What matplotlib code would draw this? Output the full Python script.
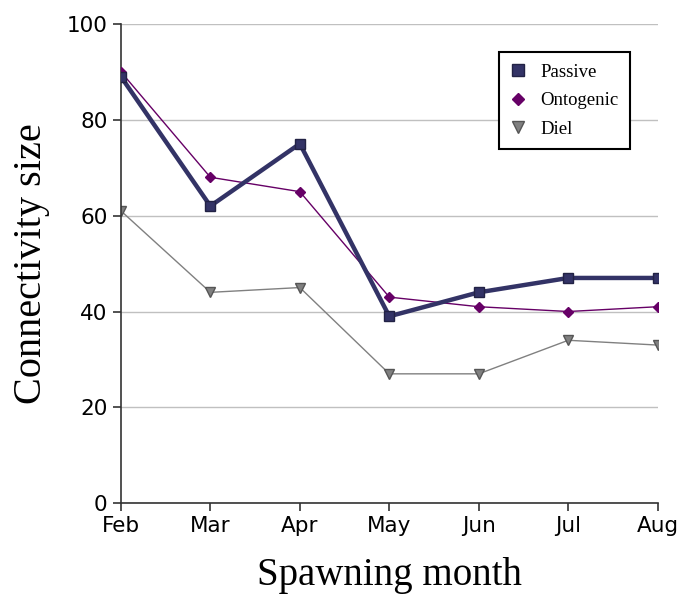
import numpy as np
import matplotlib.pyplot as plt

months = ['Feb', 'Mar', 'Apr', 'May', 'Jun', 'Jul', 'Aug']
passive = [89, 62, 75, 39, 44, 47, 47]
ontogenic = [90, 68, 65, 43, 41, 40, 41]
diel = [61, 44, 45, 27, 27, 34, 33]

fig = plt.figure(figsize=(6.83, 5.97), dpi=100)
ax = fig.add_axes([0.177, 0.157, 0.786, 0.803])

x = np.arange(len(months))
ax.plot(x, passive, color='#333366', lw=3.2, marker='s', ms=7,
        mfc='#333366', mec='#222244', label='Passive', zorder=4)
ax.plot(x, ontogenic, color='#660066', lw=1.0, marker='D', ms=5.5,
        mfc='#660066', mec='#660066', label='Ontogenic', zorder=3)
ax.plot(x, diel, color='#808080', lw=1.0, marker='v', ms=7,
        mfc='#808080', mec='#555555', label='Diel', zorder=2)

ax.set_xlim(0, len(months) - 1)
ax.set_ylim(0, 100)
ax.set_yticks([0, 20, 40, 60, 80, 100])
ax.set_xticks(x)
ax.set_xticklabels(months)
ax.tick_params(labelsize=15.5, length=6, width=1.2, color='#333333')
ax.grid(axis='y', color='#c0c0c0', lw=1.0)
ax.set_axisbelow(True)

for s in ['top', 'right']:
    ax.spines[s].set_visible(False)
for s in ['left', 'bottom']:
    ax.spines[s].set_color('#333333')
    ax.spines[s].set_linewidth(1.2)

ax.set_xlabel('Spawning month', family='Liberation Serif', fontsize=28, labelpad=15)
ax.set_ylabel('Connectivity size', family='Liberation Serif', fontsize=29, labelpad=12)

leg = ax.legend(loc='upper right', bbox_to_anchor=(0.965, 0.96), fancybox=False,
                edgecolor='black', framealpha=1, borderpad=0.6, handlelength=0.8,
                handletextpad=0.8, labelspacing=0.6, markerscale=1.2,
                prop={'family': 'Liberation Serif', 'size': 13.5})
leg.get_frame().set_linewidth(1.5)
for h in leg.get_lines():
    h.set_linestyle('none')

fig.savefig('out.png', dpi=100)
